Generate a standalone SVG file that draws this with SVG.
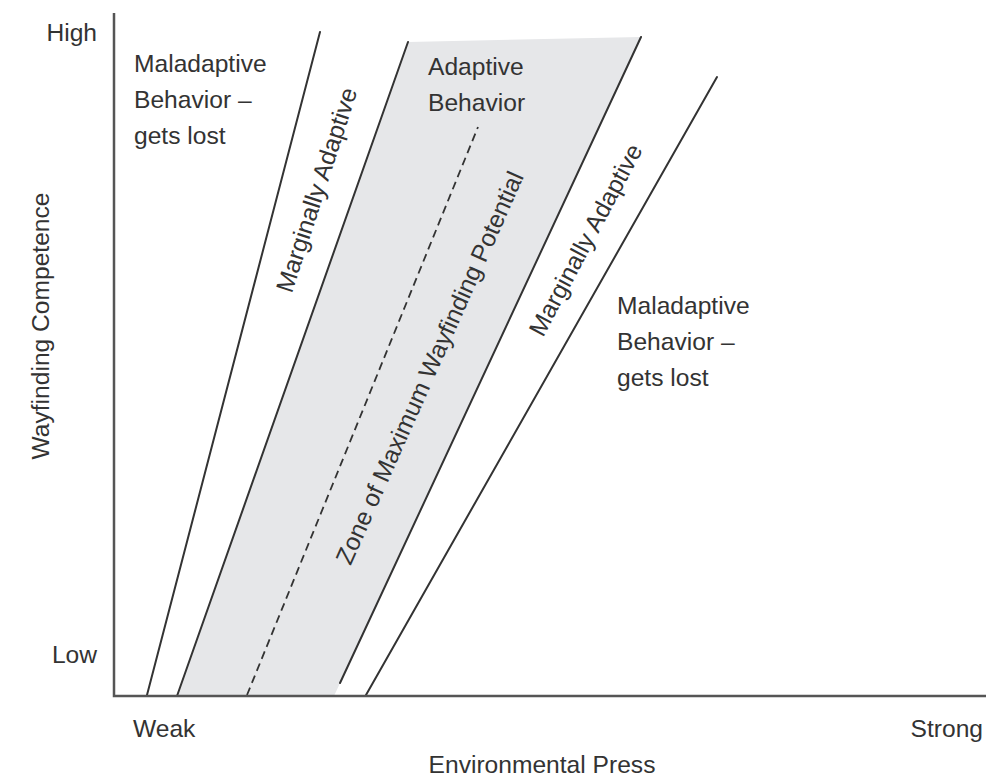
<svg xmlns="http://www.w3.org/2000/svg" width="986" height="777" viewBox="0 0 986 777">
  <style>
    text { font-family: "Liberation Sans", Arial, Helvetica, sans-serif; font-size: 24.6px; fill: #333; }
    .ln { stroke: #333; stroke-width: 2; fill: none; stroke-linecap: round; }
    .axis { stroke: #555; stroke-width: 2.5; fill: none; }
    .dash { stroke: #333; stroke-width: 1.8; fill: none; stroke-dasharray: 8 5; }
  </style>
  <rect width="986" height="777" fill="#ffffff"/>
  <g id="zone-shading">
    <polygon points="177,696 408,42 641,37 334,696" fill="#e6e7e9"/>
  </g>
  <g id="connectors">
    <line class="ln" x1="147" y1="695" x2="320" y2="32"/>
    <line class="ln" x1="177" y1="696" x2="408" y2="42"/>
    <line class="ln" x1="340" y1="683" x2="641" y2="37"/>
    <line class="ln" x1="366" y1="695" x2="717" y2="77"/>
    <line class="dash" x1="247" y1="695" x2="478" y2="127"/>
    <polyline class="axis" points="114,13 114,696 986,696"/>
  </g>
  <g id="axis-labels">
    <text x="97" y="41" text-anchor="end">High</text>
    <text x="97" y="663" text-anchor="end">Low</text>
    <text x="133" y="737">Weak</text>
    <text x="983" y="737" text-anchor="end">Strong</text>
    <text x="542" y="773" text-anchor="middle">Environmental Press</text>
    <text transform="translate(41,326) rotate(-90)" x="0" y="8" text-anchor="middle">Wayfinding Competence</text>
  </g>
  <g id="maladaptive-left">
    <text x="134" y="72">Maladaptive</text>
    <text x="134" y="108">Behavior –</text>
    <text x="134" y="144">gets lost</text>
  </g>
  <g id="marginal-left">
    <text transform="translate(317,190) rotate(-72)" x="0" y="8" text-anchor="middle">Marginally Adaptive</text>
  </g>
  <g id="adaptive">
    <text x="428" y="75">Adaptive</text>
    <text x="428" y="111">Behavior</text>
  </g>
  <g id="zone-label">
    <text transform="translate(430,368) rotate(-66)" x="0" y="8" text-anchor="middle">Zone of Maximum Wayfinding Potential</text>
  </g>
  <g id="marginal-right">
    <text transform="translate(586,240) rotate(-62)" x="0" y="8" text-anchor="middle">Marginally Adaptive</text>
  </g>
  <g id="maladaptive-right">
    <text x="617" y="314">Maladaptive</text>
    <text x="617" y="350">Behavior –</text>
    <text x="617" y="386">gets lost</text>
  </g>
</svg>
